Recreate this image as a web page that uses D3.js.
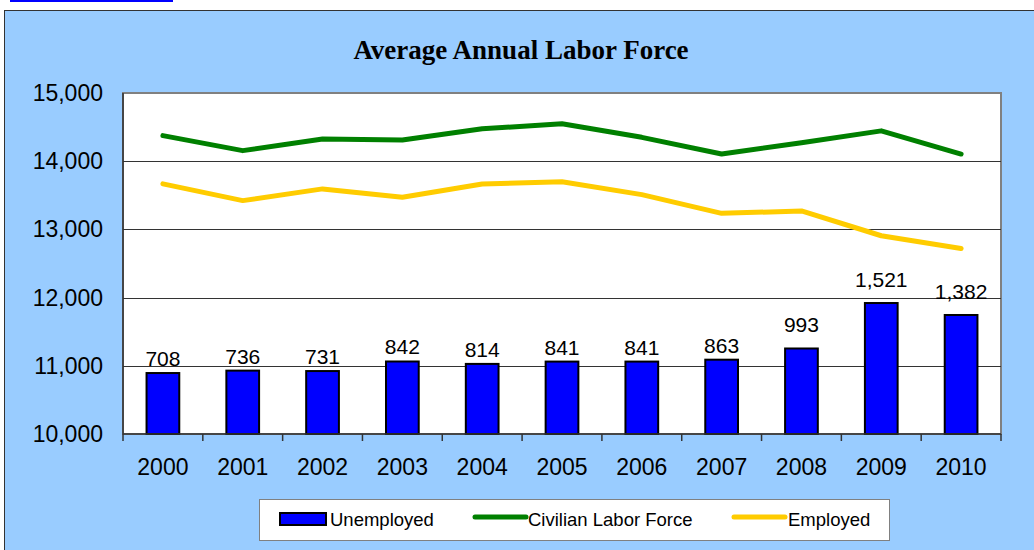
<!DOCTYPE html>
<html>
<head>
<meta charset="utf-8">
<script src="https://cdn.jsdelivr.net/npm/d3@7"></script>
<style>
  body { margin: 0; background: #fff; }
  svg { display: block; }
</style>
</head>
<body>
<svg id="chart" width="1034" height="550"></svg>
<script>
// data (thousands of people)
const years = ['2000','2001','2002','2003','2004','2005','2006','2007','2008','2009','2010'];
const unemployed = [708, 736, 731, 842, 814, 841, 841, 863, 993, 1521, 1382];
const laborForce = [14375, 14155, 14325, 14310, 14475, 14550, 14350, 14105, 14270, 14445, 14105];
const employed = [13668, 13422, 13594, 13471, 13666, 13700, 13510, 13235, 13270, 12907, 12720];
const yTicks = [10000, 11000, 12000, 13000, 14000, 15000];

const svg = d3.select('#chart');
const sans = 'Arial, "Liberation Sans", sans-serif';

// little link underline at the very top
svg.append('rect').attr('x', 10).attr('y', 0).attr('width', 163).attr('height', 2).attr('fill', '#0000ff');

// outer chart area (runs off the right/bottom of the window)
svg.append('rect')
  .attr('x', 4.5).attr('y', 10.5)
  .attr('width', 1040).attr('height', 550)
  .attr('fill', '#99ccff')
  .attr('stroke', '#333').attr('stroke-width', 1);

svg.append('text')
  .attr('x', 521).attr('y', 59)
  .attr('text-anchor', 'middle')
  .attr('font-family', '"Times New Roman", "Liberation Serif", serif')
  .attr('font-weight', 'bold')
  .attr('font-size', 27)
  .text('Average Annual Labor Force');

const plot = { left: 123, right: 1001, top: 93, bottom: 434 };

const x = d3.scaleBand().domain(years).range([plot.left, plot.right]).padding(0);
const xBar = d3.scaleBand().domain(years).range([plot.left, plot.right]).paddingInner(0.59).paddingOuter(0.295);
const y = d3.scaleLinear().domain([10000, 15000]).range([plot.bottom, plot.top]);
// bars sit on a hidden secondary axis
const yBar = d3.scaleLinear().domain([0, 3960]).range([plot.bottom, plot.top]);

// plot background
svg.append('rect')
  .attr('x', plot.left).attr('y', plot.top)
  .attr('width', plot.right - plot.left).attr('height', plot.bottom - plot.top)
  .attr('fill', '#fff')
  .attr('stroke', '#808080').attr('stroke-width', 2);

// gridlines
svg.append('g').selectAll('line')
  .data(yTicks.slice(1, -1))
  .enter().append('line')
    .attr('x1', plot.left).attr('x2', plot.right)
    .attr('y1', d => Math.round(y(d)) + 0.5).attr('y2', d => Math.round(y(d)) + 0.5)
    .attr('stroke', '#333').attr('stroke-width', 1);

// y tick labels
svg.append('g').selectAll('text')
  .data(yTicks)
  .enter().append('text')
    .attr('x', 103).attr('y', d => y(d) + 8)
    .attr('text-anchor', 'end')
    .attr('font-family', sans).attr('font-size', 23)
    .text(d => d3.format(',')(d));

// bars
const cx = d => xBar(d) + xBar.bandwidth() / 2;
svg.append('g').selectAll('rect')
  .data(years)
  .enter().append('rect')
    .attr('x', d => xBar(d))
    .attr('y', (d, i) => yBar(unemployed[i]))
    .attr('width', xBar.bandwidth())
    .attr('height', (d, i) => plot.bottom - yBar(unemployed[i]))
    .attr('fill', '#0000ff')
    .attr('stroke', '#000').attr('stroke-width', 2);

// bar labels
svg.append('g').selectAll('text')
  .data(years)
  .enter().append('text')
    .attr('x', cx)
    .attr('y', (d, i) => yBar(unemployed[i]) - (unemployed[i] > 900 ? 16 : 7))
    .attr('text-anchor', 'middle')
    .attr('font-family', sans).attr('font-size', 21)
    .text((d, i) => d3.format(',')(unemployed[i]));

// lines
const line = d3.line().x(d => cx(d[0])).y(d => y(d[1]));
svg.append('path')
  .datum(d3.zip(years, laborForce))
  .attr('d', line)
  .attr('fill', 'none').attr('stroke', '#008000').attr('stroke-width', 5)
  .attr('stroke-linecap', 'round').attr('stroke-linejoin', 'round');
svg.append('path')
  .datum(d3.zip(years, employed))
  .attr('d', line)
  .attr('fill', 'none').attr('stroke', '#ffcc00').attr('stroke-width', 5)
  .attr('stroke-linecap', 'round').attr('stroke-linejoin', 'round');

// axes lines
svg.append('line')
  .attr('x1', plot.left).attr('x2', plot.left).attr('y1', plot.top).attr('y2', plot.bottom)
  .attr('stroke', '#333').attr('stroke-width', 1.5);
svg.append('line')
  .attr('x1', plot.left).attr('x2', plot.right).attr('y1', plot.bottom).attr('y2', plot.bottom)
  .attr('stroke', '#333').attr('stroke-width', 1.5);

// x ticks at category boundaries
svg.append('g').selectAll('line')
  .data(years.concat(['end']))
  .enter().append('line')
    .attr('x1', d => d === 'end' ? plot.right : x(d))
    .attr('x2', d => d === 'end' ? plot.right : x(d))
    .attr('y1', plot.bottom).attr('y2', plot.bottom + 7)
    .attr('stroke', '#333').attr('stroke-width', 1.5);

// year labels
svg.append('g').selectAll('text')
  .data(years)
  .enter().append('text')
    .attr('x', d => x(d) + x.bandwidth() / 2)
    .attr('y', 475)
    .attr('text-anchor', 'middle')
    .attr('font-family', sans).attr('font-size', 23)
    .text(d => d);

// legend
const legend = svg.append('g');
legend.append('rect')
  .attr('x', 259.5).attr('y', 499.5).attr('width', 630).attr('height', 41)
  .attr('fill', '#fff').attr('stroke', '#808080').attr('stroke-width', 1);
legend.append('rect')
  .attr('x', 280).attr('y', 513).attr('width', 46).attr('height', 12)
  .attr('fill', '#0000ff').attr('stroke', '#000').attr('stroke-width', 2);
legend.append('text')
  .attr('x', 330).attr('y', 526)
  .attr('font-family', sans).attr('font-size', 18.5)
  .text('Unemployed');
legend.append('line')
  .attr('x1', 475).attr('x2', 526).attr('y1', 517).attr('y2', 517)
  .attr('stroke', '#008000').attr('stroke-width', 5).attr('stroke-linecap', 'round');
legend.append('text')
  .attr('x', 528).attr('y', 526)
  .attr('font-family', sans).attr('font-size', 18.5)
  .text('Civilian Labor Force');
legend.append('line')
  .attr('x1', 734).attr('x2', 785).attr('y1', 517).attr('y2', 517)
  .attr('stroke', '#ffcc00').attr('stroke-width', 5).attr('stroke-linecap', 'round');
legend.append('text')
  .attr('x', 788).attr('y', 526)
  .attr('font-family', sans).attr('font-size', 18.5)
  .text('Employed');
</script>
</body>
</html>
